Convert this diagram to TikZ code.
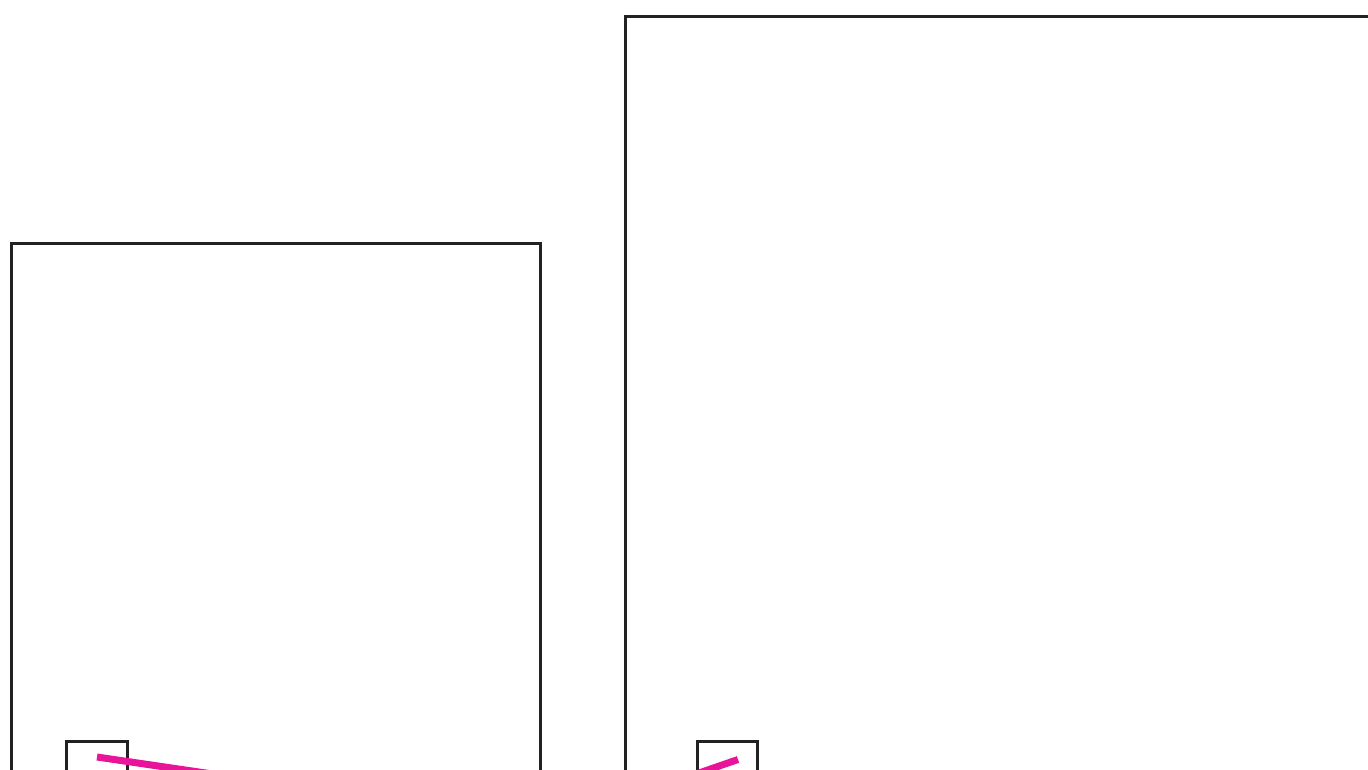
\documentclass[tikz,border=0pt]{standalone}
\definecolor{frame}{HTML}{222222}
\definecolor{pinkline}{HTML}{E8149A}
\tikzset{
  box/.style={draw=frame, line width=3pt},
  wire/.style={draw=pinkline, line width=7pt}
}
\begin{document}
\begin{tikzpicture}[x=1pt,y=-1pt]
\useasboundingbox (0,0) rectangle (1368,769);
\clip (0,0) rectangle (1368,769);
% left large frame
\draw[box] (11,800) -- (11,243) -- (540,243) -- (540,800);
% right large frame
\draw[box] (625,800) -- (625,16) -- (1400,16);
% small squares
\draw[box] (66,800) -- (66,741) -- (127,741) -- (127,800);
\draw[box] (697,800) -- (697,741) -- (757,741) -- (757,800);
% pink lines
\coordinate (pl1) at (97,757);
\coordinate (pl2) at (260,781);
\draw[wire] (pl1) -- (pl2);
\coordinate (pr1) at (738,759.5);
\coordinate (pr2) at (670,783);
\draw[wire] (pr1) -- (pr2);
\end{tikzpicture}
\end{document}
